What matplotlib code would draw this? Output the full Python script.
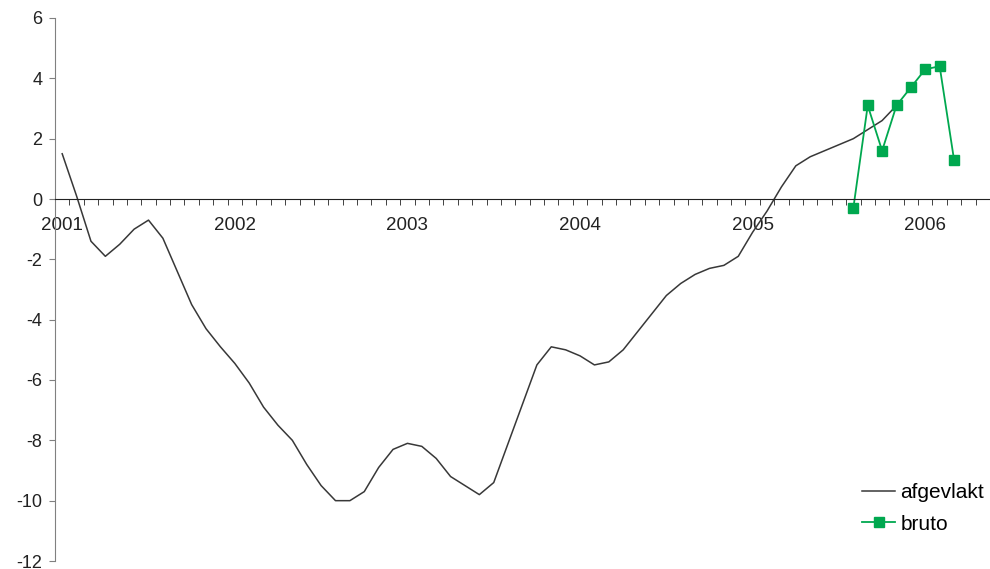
import numpy as np
import matplotlib.pyplot as plt

plt.rcParams['font.family'] = ['Liberation Sans', 'DejaVu Sans']

# monthly data, index 0 = jan 2001
afgevlakt = [1.5, 0.1, -1.4, -1.9, -1.5, -1.0, -0.7, -1.3, -2.4, -3.5, -4.3, -4.9,
             -5.45, -6.1, -6.9, -7.5, -8.0, -8.8, -9.5, -10.0, -10.0, -9.7, -8.9, -8.3,
             -8.1, -8.2, -8.6, -9.2, -9.5, -9.8, -9.4, -8.1, -6.8, -5.5, -4.9, -5.0,
             -5.2, -5.5, -5.4, -5.0, -4.4, -3.8, -3.2, -2.8, -2.5, -2.3, -2.2, -1.9,
             -1.1, -0.4, 0.4, 1.1, 1.4, 1.6, 1.8, 2.0, 2.3, 2.6, 3.1]
bruto_start = 55  # aug 2005
bruto = [-0.3, 3.1, 1.6, 3.1, 3.7, 4.3, 4.4, 1.3]
years = ['2001', '2002', '2003', '2004', '2005', '2006']
yticks = [6, 4, 2, 0, -2, -4, -6, -8, -10, -12]

fig = plt.figure(figsize=(9.9, 5.69), dpi=100)
ax = fig.add_axes([55/990, 8/569, 935/990, 543/569])

x1 = np.arange(len(afgevlakt))
x2 = np.arange(bruto_start, bruto_start + len(bruto))
ax.plot(x1, afgevlakt, color='#383838', lw=1.1, label='afgevlakt')
ax.plot(x2, bruto, color='#00a84f', lw=1.3, marker='s', ms=6.5,
        markeredgecolor='#00a84f', label='bruto')

ax.set_ylim(-12, 6)
ax.set_xlim(-0.5, 63.9)
ax.set_yticks(yticks)
ax.set_yticklabels([str(v) for v in yticks], fontsize=13, color='#222222')

# x axis through zero, category ticks between months, year labels on january
ax.spines['bottom'].set_position(('data', 0))
ax.spines['top'].set_visible(False)
ax.spines['right'].set_visible(False)
ax.spines['left'].set_color('#808080')
ax.spines['bottom'].set_color('#222222')
ax.set_xticks(np.arange(0, 61, 12))
ax.set_xticklabels(years, fontsize=13.5, color='#222222')
ax.set_xticks(np.arange(-0.5, 65, 1), minor=True)
ax.tick_params(axis='x', which='major', length=0, pad=13)
ax.tick_params(axis='x', which='minor', length=4, direction='out', color='#222222')
ax.tick_params(axis='y', length=4, direction='out', color='#808080', pad=5)

ax.legend(loc='upper left', bbox_to_anchor=(862/990, 1 - 483/569),
          bbox_transform=fig.transFigure, frameon=False, fontsize=15,
          borderpad=0, borderaxespad=0, handlelength=1.6, handletextpad=0.25,
          labelspacing=0.6)

fig.savefig('out.png', dpi=100)
